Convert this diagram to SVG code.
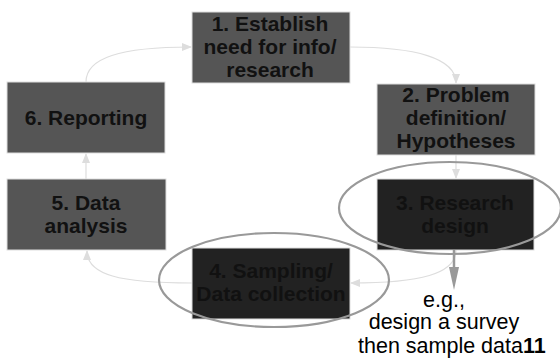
<svg xmlns="http://www.w3.org/2000/svg" width="560" height="358" viewBox="0 0 560 358">
<style>
.box{fill:#555;stroke:#ddd;stroke-width:1}
.dark{fill:#222;stroke:#ddd;stroke-width:1}
.t{font-family:"Liberation Sans",Arial,sans-serif;font-size:21px;font-weight:bold;fill:#111;text-anchor:middle}
.c{fill:none;stroke:#ddd;stroke-width:1.2}
.ring{fill:none;stroke:#999;stroke-width:2.2}
.n{font-family:"Liberation Sans",Arial,sans-serif;font-size:21.5px;fill:#000}
</style>
<defs>
<marker id="ah" markerWidth="10" markerHeight="8" refX="9" refY="4" orient="auto" markerUnits="userSpaceOnUse">
<path d="M0,0 L10,4 L0,8 Z" fill="#ddd"/>
</marker>
</defs>
<rect width="560" height="358" fill="#fff"/>
<g id="connectors">
<path class="c" d="M86,82 C86,58 120,47 191,47" marker-end="url(#ah)"/>
<path class="c" d="M350,47 C415,47 456,58 456,83" marker-end="url(#ah)"/>
<path class="c" d="M456,155 L456,178" marker-end="url(#ah)"/>
<path class="c" d="M456,250 C456,274 420,283 351,283" marker-end="url(#ah)"/>
<path class="c" d="M192,283 C120,283 87,275 87,251" marker-end="url(#ah)"/>
<path class="c" d="M86,179 L86,154" marker-end="url(#ah)"/>
</g>
<g id="n1"><rect class="box" x="192" y="12" width="158" height="71"/>
<text class="t" x="270" y="31">1. Establish</text><text class="t" x="270" y="54">need for info/</text><text class="t" x="270" y="77">research</text></g>
<g id="n2"><rect class="box" x="377" y="84" width="158" height="71"/>
<text class="t" x="456" y="102">2. Problem</text><text class="t" x="456" y="125">definition/</text><text class="t" x="456" y="148">Hypotheses</text></g>
<g id="n3"><rect class="dark" x="377" y="179" width="157" height="71"/>
<text class="t" x="455" y="210">3. Research</text><text class="t" x="455" y="233">design</text></g>
<g id="n4"><rect class="dark" x="192" y="248" width="158" height="71"/>
<text class="t" x="271" y="278">4. Sampling/</text><text class="t" x="271" y="301">Data collection</text></g>
<g id="n5"><rect class="box" x="7" y="179" width="159" height="71"/>
<text class="t" x="86" y="210">5. Data</text><text class="t" x="86" y="233">analysis</text></g>
<g id="n6"><rect class="box" x="7" y="82" width="158" height="71"/>
<text class="t" x="86" y="125">6. Reporting</text></g>
<g id="highlights">
<ellipse class="ring" cx="450" cy="208" rx="111" ry="46"/>
<ellipse class="ring" cx="274" cy="280" rx="115" ry="47"/>
<path d="M454,250 L454,268" stroke="#999" stroke-width="2.5"/>
<path d="M449,267 L459,267 L454,290 Z" fill="#999"/>
</g>
<g id="note">
<text class="n" x="444" y="307" text-anchor="middle">e.g.,</text>
<text class="n" x="444" y="329" text-anchor="middle">design a survey</text>
<text class="n" x="358" y="353">then sample data<tspan font-weight="bold">11</tspan></text>
</g>
</svg>
